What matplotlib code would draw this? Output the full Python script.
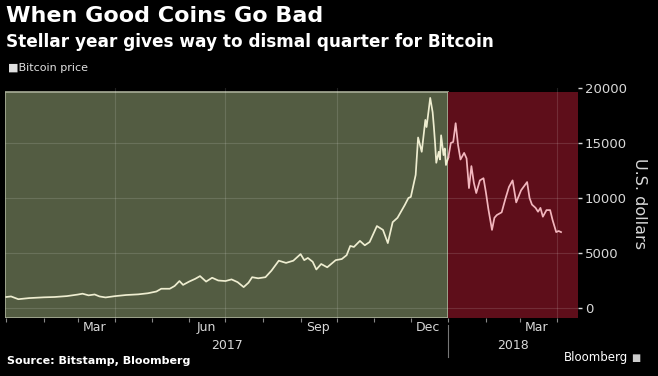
import matplotlib
matplotlib.use("Agg")
import matplotlib.pyplot as plt
import matplotlib.dates as mdates
import numpy as np
import datetime as dt

# Bitcoin price (USD)
fechas = [
    "2017-01-01", "2017-01-05", "2017-01-11", "2017-01-20", "2017-02-01", "2017-02-10",
    "2017-02-20", "2017-03-01", "2017-03-05", "2017-03-10", "2017-03-15", "2017-03-19",
    "2017-03-24", "2017-04-01", "2017-04-10", "2017-04-20", "2017-04-28", "2017-05-05",
    "2017-05-09", "2017-05-16", "2017-05-20", "2017-05-24", "2017-05-27", "2017-06-01",
    "2017-06-06", "2017-06-10", "2017-06-15", "2017-06-20", "2017-06-25", "2017-07-01",
    "2017-07-06", "2017-07-11", "2017-07-16", "2017-07-20", "2017-07-23", "2017-07-28",
    "2017-08-03", "2017-08-08", "2017-08-14", "2017-08-17", "2017-08-20", "2017-08-26",
    "2017-09-01", "2017-09-04", "2017-09-07", "2017-09-11", "2017-09-14", "2017-09-18",
    "2017-09-23", "2017-09-30", "2017-10-05", "2017-10-09", "2017-10-12", "2017-10-15",
    "2017-10-20", "2017-10-24", "2017-10-28", "2017-11-03", "2017-11-08", "2017-11-12",
    "2017-11-16", "2017-11-20", "2017-11-26", "2017-11-29", "2017-12-01", "2017-12-05",
    "2017-12-07", "2017-12-10", "2017-12-13", "2017-12-14", "2017-12-17", "2017-12-19",
    "2017-12-20", "2017-12-21", "2017-12-22", "2017-12-24", "2017-12-25", "2017-12-26",
    "2017-12-28", "2017-12-29", "2017-12-30", "2018-01-01",
]
precios = [
    1000, 1050, 800, 900, 970, 1000,
    1080, 1220, 1300, 1150, 1230, 1050,
    960, 1080, 1180, 1240, 1340, 1500,
    1750, 1750, 2000, 2450, 2100, 2400,
    2650, 2900, 2400, 2750, 2500, 2450,
    2600, 2350, 1900, 2300, 2800, 2700,
    2800, 3400, 4300, 4200, 4100, 4300,
    4900, 4350, 4550, 4200, 3500, 4000,
    3700, 4350, 4450, 4800, 5640, 5550,
    6100, 5700, 6000, 7450, 7100, 5900,
    7800, 8200, 9360, 10000, 10100, 12100,
    15500, 14200, 17100, 16450, 19100, 17800,
    16500, 15000, 13200, 14200, 13500, 15700,
    13900, 14500, 13000, 13700,
]

fechas2018 = [
    "2018-01-01", "2018-01-03", "2018-01-05", "2018-01-07", "2018-01-09", "2018-01-11",
    "2018-01-14", "2018-01-16", "2018-01-18", "2018-01-20", "2018-01-22", "2018-01-24",
    "2018-01-27", "2018-01-30", "2018-02-01", "2018-02-03", "2018-02-06", "2018-02-08",
    "2018-02-10", "2018-02-14", "2018-02-17", "2018-02-20", "2018-02-23", "2018-02-26",
    "2018-03-02", "2018-03-07", "2018-03-09", "2018-03-11", "2018-03-14", "2018-03-16",
    "2018-03-18", "2018-03-20", "2018-03-23", "2018-03-26", "2018-03-28", "2018-03-31",
    "2018-04-02", "2018-04-04",
]
precios2018 = [
    13700, 15000, 15100, 16800, 14800, 13500,
    14100, 13600, 10900, 12900, 11400, 10450,
    11600, 11800, 10500, 9000, 7100, 8200,
    8450, 8700, 9900, 11000, 11600, 9600,
    10700, 11450, 10000, 9400, 9100, 8750,
    9100, 8300, 8900, 8900, 8000, 6900,
    7000, 6900,
]

x1 = [dt.datetime.strptime(f, "%Y-%m-%d") for f in fechas]
x2 = [dt.datetime.strptime(f, "%Y-%m-%d") for f in fechas2018]

inicio = dt.datetime(2016, 12, 31)
corte = dt.datetime(2018, 1, 1)
fin = dt.datetime(2018, 4, 18)

ylo, yhi = -910, 20000
techo = 19640  # top of the shaded boxes

fig = plt.figure(figsize=(6.58, 3.76), dpi=100)
fig.patch.set_facecolor("black")
ax = fig.add_axes([5 / 658, 1 - 318 / 376, 573 / 658, 230 / 376])
ax.set_facecolor("black")

frac = (techo - ylo) / (yhi - ylo)
ax.axvspan(inicio, corte, ymin=0, ymax=frac, facecolor="#535c42", edgecolor="#a9ae98", lw=1.2, zorder=1)
ax.axvspan(corte, fin, ymin=0, ymax=frac, facecolor="#5e0e1a", edgecolor="none", zorder=1)

# gridlines
for v in [0, 5000, 10000, 15000]:
    ax.hlines(v, inicio, fin, color="white", alpha=0.13, lw=0.8, zorder=2)
for q in ["2017-04-01", "2017-07-01", "2017-10-01", "2018-04-01"]:
    ax.axvline(dt.datetime.strptime(q, "%Y-%m-%d"), color="white", alpha=0.13, lw=0.8, zorder=2)

ax.plot(x1, precios, color="#eeedd0", lw=1.25, zorder=3)
ax.plot(x2, precios2018, color="#f2b6bd", lw=1.25, zorder=3)

ax.set_xlim(inicio, fin)
ax.set_ylim(ylo, yhi)

for s in ax.spines.values():
    s.set_visible(False)

# y axis on the right
ax.yaxis.tick_right()
ax.set_yticks([0, 5000, 10000, 15000, 20000])
ax.tick_params(axis="y", colors="#d8d8d8", labelsize=9.5, length=3, width=1, pad=2)
ax.set_ylabel("U.S. dollars", color="#d8d8d8", fontsize=11.5, rotation=270, labelpad=14)
ax.yaxis.set_label_position("right")

# x axis: month ticks, labels mid-month
meses = ["Mar", "Jun", "Sep", "Dec", "Mar"]
medios = ["2017-03-15", "2017-06-15", "2017-09-15", "2017-12-15", "2018-03-15"]
ax.set_xticks([dt.datetime.strptime(m, "%Y-%m-%d") for m in medios])
ax.set_xticklabels(meses)
ax.xaxis.set_minor_locator(mdates.MonthLocator())
ax.tick_params(axis="x", which="major", length=0, colors="#d8d8d8", labelsize=9, pad=2)
ax.tick_params(axis="x", which="minor", length=3, color="#888888", width=0.8)

# years
ax.text(dt.datetime(2017, 7, 2), -0.12, "2017", transform=ax.get_xaxis_transform(),
        ha="center", va="center", color="#d8d8d8", fontsize=9)
ax.text(dt.datetime(2018, 2, 23), -0.12, "2018", transform=ax.get_xaxis_transform(),
        ha="center", va="center", color="#d8d8d8", fontsize=9)
ax.plot([corte, corte], [-0.03, -0.17], transform=ax.get_xaxis_transform(),
        color="#777777", lw=0.8, clip_on=False)

fig.text(6 / 658, 1 - 16 / 376, "When Good Coins Go Bad", color="white", fontsize=16,
         fontweight="bold", ha="left", va="center")
fig.text(6 / 658, 1 - 42 / 376, "Stellar year gives way to dismal quarter for Bitcoin", color="white",
         fontsize=12.2, fontweight="bold", ha="left", va="center")
fig.text(8 / 658, 1 - 68 / 376, "\u25a0Bitcoin price", color="#e0e0e0", fontsize=8, ha="left", va="center")
fig.text(7 / 658, 1 - 361 / 376, "Source: Bitstamp, Bloomberg", color="white", fontsize=8,
         fontweight="bold", ha="left", va="center")
fig.text(628 / 658, 1 - 358 / 376, "Bloomberg", color="white", fontsize=8.5, ha="right", va="center")
fig.text(636 / 658, 1 - 358 / 376, "\u25a0", color="#cccccc", fontsize=7, ha="center", va="center")

fig.savefig("out.png", dpi=100, facecolor="black")
